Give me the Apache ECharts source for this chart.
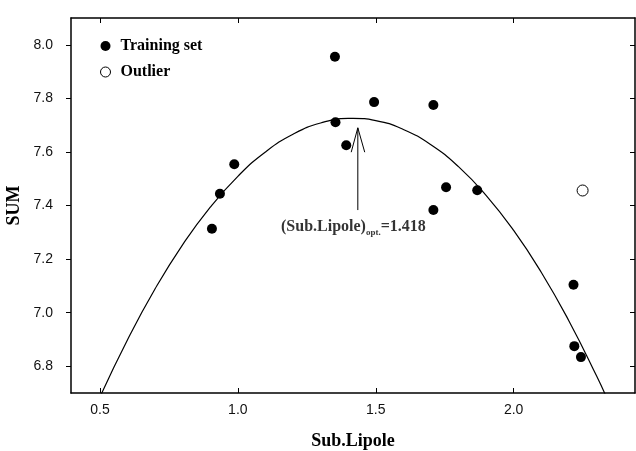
<!DOCTYPE html>
<html>
<head>
<meta charset="utf-8">
<script src="https://cdn.jsdelivr.net/npm/echarts@6/dist/echarts.min.js"></script>
<style>html,body{margin:0;padding:0;background:#fff}#c{width:636px;height:451px}</style>
</head>
<body>
<div id="c"></div>
<script>
// ---- data ----
const xTicks = [0.5, 1.0, 1.5, 2.0];
const yTicks = [6.8, 7.0, 7.2, 7.4, 7.6, 7.8, 8.0];
const trainingX = [0.906, 0.935, 0.987, 1.352, 1.354, 1.393, 1.494, 1.709, 1.709, 1.755, 1.868, 2.217, 2.220, 2.244];
const trainingY = [7.313, 7.444, 7.554, 7.955, 7.711, 7.625, 7.786, 7.775, 7.383, 7.468, 7.457, 7.104, 6.875, 6.834];
const outlierX = [2.250];
const outlierY = [7.456];
const curveX = [0.5, 0.6, 0.7, 0.8, 0.9, 1.0, 1.1, 1.2, 1.3, 1.4, 1.418, 1.5, 1.6, 1.7, 1.8, 1.9, 2.0, 2.1, 2.2, 2.3, 2.35];
const curveY = [6.685, 6.899, 7.089, 7.254, 7.394, 7.509, 7.600, 7.666, 7.708, 7.725, 7.725, 7.717, 7.684, 7.627, 7.545, 7.438, 7.307, 7.151, 6.970, 6.765, 6.653];
const optValue = 1.418;
const arrowShaft = [[1.435, 7.383], [1.435, 7.69]];
const arrowHead = [[1.411, 7.599], [1.435, 7.69], [1.460, 7.599]];
const labelAt = [1.419, 7.319];

const zip = (a, b) => a.map((v, i) => [v, b[i]]);
const chart = echarts.init(document.getElementById('c'));
const serif = 'Liberation Serif';
const sans = 'Liberation Sans';
const axisLineStyle = { color: '#000', width: 1.5 };
const fmt = v => Number(v).toFixed(1);

chart.setOption({
  backgroundColor: '#fff',
  animation: false,
  grid: { left: 71, right: 1, top: 18, bottom: 58, containLabel: false, outerBoundsMode: 'none' },
  legend: {
    data: [
      { name: 'Training set' },
      { name: 'Outlier', itemStyle: { color: '#fff', borderColor: '#000', borderWidth: 1 } }
    ],
    orient: 'vertical',
    left: 100,
    top: 38,
    padding: 0,
    itemWidth: 20,
    itemHeight: 10,
    itemGap: 10,
    textStyle: { fontFamily: serif, fontWeight: 'bold', fontSize: 16, color: '#000' },
    selectedMode: false
  },
  xAxis: [{
    type: 'value', min: 0.395, max: 2.44, position: 'bottom',
    name: 'Sub.Lipole', nameLocation: 'middle', nameGap: 39, nameMoveOverlap: false,
    nameTextStyle: { fontFamily: serif, fontWeight: 'bold', fontSize: 18, color: '#000' },
    axisLine: { show: true, lineStyle: axisLineStyle },
    axisTick: { show: true, inside: true, length: 5, lineStyle: { color: '#000' }, customValues: xTicks },
    axisLabel: { fontFamily: sans, fontSize: 14, color: '#111', margin: 10, customValues: xTicks, formatter: fmt },
    splitLine: { show: false }
  }, {
    type: 'value', min: 0.395, max: 2.44, position: 'top',
    axisLine: { show: true, lineStyle: axisLineStyle },
    axisTick: { show: true, inside: true, length: 5, lineStyle: { color: '#000' }, customValues: xTicks },
    axisLabel: { show: false },
    splitLine: { show: false }
  }],
  yAxis: [{
    type: 'value', min: 6.7, max: 8.1, position: 'left',
    name: 'SUM', nameLocation: 'middle', nameGap: 48, nameRotate: 90, nameMoveOverlap: false,
    nameTextStyle: { fontFamily: serif, fontWeight: 'bold', fontSize: 18, color: '#000' },
    axisLine: { show: true, lineStyle: axisLineStyle },
    axisTick: { show: true, inside: false, length: 5, lineStyle: { color: '#000' }, customValues: yTicks },
    axisLabel: { fontFamily: sans, fontSize: 14, color: '#111', margin: 18, customValues: yTicks, formatter: fmt },
    splitLine: { show: false }
  }, {
    type: 'value', min: 6.7, max: 8.1, position: 'right',
    axisLine: { show: true, lineStyle: axisLineStyle },
    axisTick: { show: true, inside: true, length: 5, lineStyle: { color: '#000' }, customValues: yTicks },
    axisLabel: { show: false },
    splitLine: { show: false }
  }],
  series: [
    {
      name: 'fit', type: 'line', data: zip(curveX, curveY), smooth: true,
      showSymbol: false, clip: true, silent: true,
      lineStyle: { color: '#000', width: 1.2 }, z: 2
    },
    {
      name: 'Training set', type: 'scatter', data: zip(trainingX, trainingY),
      symbol: 'circle', symbolSize: 10,
      itemStyle: { color: '#000', opacity: 1 }, z: 3
    },
    {
      name: 'Outlier', type: 'scatter', data: zip(outlierX, outlierY),
      symbol: 'circle', symbolSize: 11,
      itemStyle: { color: '#fff', borderColor: '#000', borderWidth: 1, opacity: 1 }, z: 3
    },
    {
      name: 'arrow', type: 'lines', coordinateSystem: 'cartesian2d', polyline: true, silent: true,
      data: [{ coords: arrowShaft }, { coords: arrowHead }],
      lineStyle: { color: '#000', width: 1, opacity: 1 }, z: 4
    },
    {
      name: 'annot', type: 'scatter', data: [labelAt], symbolSize: 0, silent: true,
      label: {
        show: true, position: 'inside',
        formatter: '{m|(Sub.Lipole)}{s|opt.}{m|=' + optValue.toFixed(3) + '}',
        rich: {
          m: { fontFamily: serif, fontWeight: 'bold', fontSize: 16, color: '#000', lineHeight: 19, verticalAlign: 'middle' },
          s: { fontFamily: serif, fontWeight: 'bold', fontSize: 9, color: '#000', lineHeight: 19, verticalAlign: 'bottom', padding: [8, 0, 0, 0] }
        }
      }, z: 5
    }
  ]
});
</script>
</body>
</html>
